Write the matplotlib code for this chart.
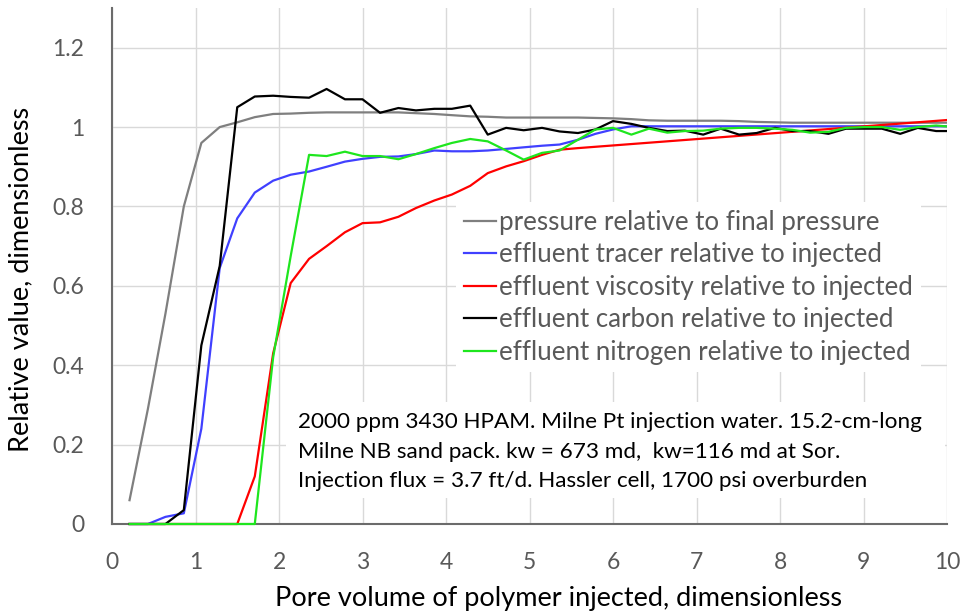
import matplotlib
matplotlib.use("Agg")
import matplotlib.pyplot as plt
from matplotlib.patches import Rectangle

plt.rcParams['font.family'] = ['Lato', 'DejaVu Sans']

# pore volumes injected (sample points)
pv = [0.21, 0.43, 0.64, 0.86, 1.07, 1.29, 1.50, 1.71, 1.93, 2.14,
      2.36, 2.57, 2.79, 3.00, 3.21, 3.43, 3.64, 3.86, 4.07, 4.29,
      4.50, 4.72, 4.93, 5.15, 5.36, 5.58, 5.79, 6.00, 6.22, 6.43,
      6.65, 6.86, 7.08, 7.29, 7.51, 7.72, 7.94, 8.15, 8.36, 8.58,
      8.79, 9.01, 9.22, 9.44, 9.65, 9.87, 10.08]

pressure = [0.06, 0.29, 0.53, 0.80, 0.96, 1.00, 1.012, 1.025, 1.033, 1.034,
            1.036, 1.037, 1.037, 1.037, 1.037, 1.037, 1.035, 1.033, 1.030, 1.027,
            1.026, 1.024, 1.024, 1.024, 1.024, 1.024, 1.023, 1.022, 1.020, 1.017,
            1.016, 1.016, 1.016, 1.016, 1.015, 1.013, 1.012, 1.011, 1.011, 1.011,
            1.011, 1.011, 1.011, 1.011, 1.011, 1.011, 1.011]

tracer = [0, 0, 0.018, 0.027, 0.24, 0.645, 0.77, 0.835, 0.865, 0.88,
          0.888, 0.90, 0.913, 0.92, 0.925, 0.926, 0.932, 0.941, 0.939, 0.939,
          0.941, 0.945, 0.949, 0.953, 0.956, 0.968, 0.983, 0.994, 1.002, 1.002,
          1.002, 1.002, 1.002, 1.002, 1.002, 1.002, 1.002, 1.002, 1.002, 1.002,
          1.002, 1.002, 1.002, 1.002, 1.002, 1.002, 1.002]

# viscosity was measured less often late in the flood
visc_pv = pv[:26] + [10.08]
viscosity = [0, 0, 0, 0, 0, 0, 0, 0.12, 0.43, 0.607,
             0.668, 0.70, 0.735, 0.758, 0.76, 0.774, 0.796, 0.815, 0.830, 0.852,
             0.884, 0.901, 0.914, 0.930, 0.943, 0.947, 1.019]

carbon = [0, 0, 0, 0.035, 0.45, 0.65, 1.05, 1.077, 1.079, 1.076,
          1.074, 1.096, 1.07, 1.07, 1.036, 1.048, 1.042, 1.046, 1.046, 1.054,
          0.981, 0.998, 0.992, 0.998, 0.989, 0.985, 0.994, 1.015, 1.008, 0.998,
          0.990, 0.991, 0.981, 0.996, 0.981, 0.985, 0.998, 0.990, 0.990, 0.983,
          0.996, 0.996, 0.996, 0.983, 0.998, 0.990, 0.990]

nitrogen = [0, 0, 0, 0, 0, 0, 0, 0, 0.42, 0.675,
            0.93, 0.927, 0.938, 0.927, 0.927, 0.919, 0.932, 0.947, 0.960, 0.970,
            0.964, 0.941, 0.918, 0.935, 0.941, 0.968, 0.994, 0.998, 0.981, 0.996,
            0.986, 0.990, 0.991, 0.996, 0.998, 0.998, 0.996, 0.993, 0.986, 0.988,
            0.998, 1.000, 1.000, 0.993, 1.000, 1.004, 1.000]

labels = ["pressure relative to final pressure",
          "effluent tracer relative to injected",
          "effluent viscosity relative to injected",
          "effluent carbon relative to injected",
          "effluent nitrogen relative to injected"]

note = ["2000 ppm 3430 HPAM. Milne Pt injection water. 15.2-cm-long",
        "Milne NB sand pack. kw = 673 md,  kw=116 md at Sor.",
        "Injection flux = 3.7 ft/d. Hassler cell, 1700 psi overburden"]

fig = plt.figure(figsize=(9.64, 6.14), dpi=100)
ax = fig.add_axes([112/964, 90/614, 835/964, 516/614])

# clip a little below y=0 so lines lying on the axis stay fully visible
clip = Rectangle((0, -0.02), 1, 1.02, transform=ax.transAxes,
                 facecolor='none', edgecolor='none')
ax.add_patch(clip)

series = [(pv, pressure, '#7f7f7f'), (pv, tracer, '#4040ff'),
          (visc_pv, viscosity, '#ff0000'), (pv, carbon, '#000000'),
          (pv, nitrogen, '#1ee61e')]
for (xs, ys, c), lab in zip(series, labels):
    ln, = ax.plot(xs, ys, color=c, lw=1.6, label=lab, zorder=3)
    ln.set_clip_path(clip)

ax.set_xlim(0, 10)
ax.set_ylim(0, 1.3)
ax.set_xticks(range(0, 11))
ax.set_yticks([0, 0.2, 0.4, 0.6, 0.8, 1.0, 1.2])
ax.set_yticklabels(["0", "0.2", "0.4", "0.6", "0.8", "1", "1.2"])
ax.tick_params(length=0, labelsize=16.5, labelcolor='#595959')
ax.tick_params(axis='y', pad=20)
ax.tick_params(axis='x', pad=20)
ax.grid(True, color='#d9d9d9', lw=1)
ax.set_axisbelow(True)
for s in ['top', 'right']:
    ax.spines[s].set_visible(False)
for s in ['left', 'bottom']:
    ax.spines[s].set_color('#6b6b6b')
    ax.spines[s].set_linewidth(1.5)
    ax.spines[s].set_zorder(2.6)

ax.set_xlabel("Pore volume of polymer injected, dimensionless", fontsize=19.5)
ax.set_ylabel("Relative value, dimensionless", fontsize=19.5)
ax.xaxis.set_label_coords(0.535, -0.121)
ax.yaxis.set_label_coords(-0.094, 0.473)

leg = ax.legend(loc='upper left', bbox_to_anchor=(0.412, 0.624), borderaxespad=0,
                frameon=True, fancybox=False, fontsize=18.6, handlelength=1.25,
                handletextpad=0.12, labelspacing=0.29, borderpad=0.3)
leg.get_frame().set_edgecolor('none')
leg.get_frame().set_facecolor('white')
leg.get_frame().set_alpha(1)
for t in leg.get_texts():
    t.set_color('#595959')

ax.add_patch(Rectangle(((286-112)/835, (524-498)/516), (945-286)/835, 96/516,
                       transform=ax.transAxes, facecolor='white', edgecolor='none',
                       zorder=2.5))
for i, line in enumerate(note):
    ax.text((298-112)/835, (524-(422+29.5*i))/516, line, transform=ax.transAxes,
            fontsize=16.2, va='center', ha='left', color='#000000', zorder=3)

fig.savefig("out.png", dpi=100)
